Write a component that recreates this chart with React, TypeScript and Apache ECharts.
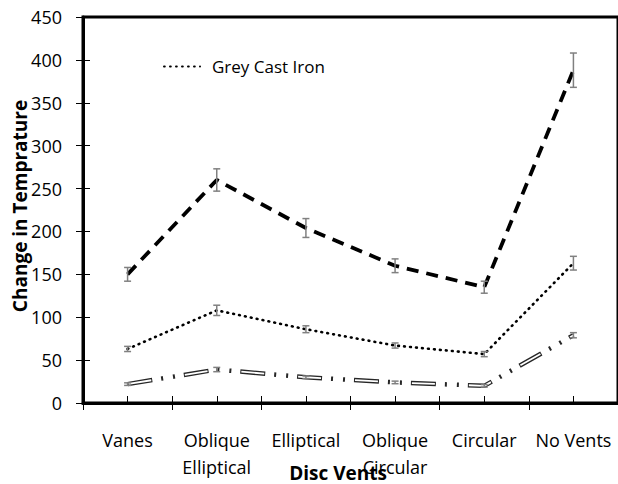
import React, { useEffect, useRef } from 'react';
import * as echarts from 'echarts';

const categories = ['Vanes', 'Oblique\nElliptical', 'Elliptical', 'Oblique\nCircular', 'Circular', 'No Vents'];
const yMin = 0;
const yMax = 450;
const yInterval = 50;
const upperValues = [150, 260, 204, 160, 135, 388];
const upperErrors = [8, 13, 11, 8, 7, 20];
const greyCastIronValues = [63, 108, 86, 67, 57, 163];
const greyCastIronErrors = [3, 6, 4, 3, 3, 8];
const lowerValues = [22, 39, 30, 24, 20, 79];
const lowerErrors = [1.5, 2.5, 1.5, 1.5, 1.5, 3];

const FONT = '"Open Sans", sans-serif';

function errorSeries(name: string, values: number[], errors: number[]) {
  return {
    type: 'custom',
    name,
    xAxisIndex: 0,
    yAxisIndex: 0,
    z: 4,
    data: values.map((v, i) => [i, v - errors[i], v + errors[i]]),
    encode: { x: 0, y: [1, 2] },
    renderItem: (_params: any, api: any) => {
      const lo = api.coord([api.value(0), api.value(1)]);
      const hi = api.coord([api.value(0), api.value(2)]);
      const w = 3.5;
      const style = { stroke: '#808080', lineWidth: 1.5 };
      return {
        type: 'group',
        children: [
          { type: 'line', shape: { x1: lo[0], y1: lo[1], x2: hi[0], y2: hi[1] }, style },
          { type: 'line', shape: { x1: lo[0] - w, y1: lo[1], x2: lo[0] + w, y2: lo[1] }, style },
          { type: 'line', shape: { x1: hi[0] - w, y1: hi[1], x2: hi[0] + w, y2: hi[1] }, style },
        ],
      };
    },
  };
}

export default function App() {
  const ref = useRef<HTMLDivElement>(null);
  useEffect(() => {
    if (!ref.current) return;
    const chart = echarts.init(ref.current, null, { renderer: 'svg' });
    const xBase = {
      type: 'category',
      data: categories,
      position: 'bottom',
      boundaryGap: true,
      gridIndex: 0,
    };
    const yBase = {
      type: 'value',
      min: yMin,
      max: yMax,
      interval: yInterval,
      position: 'left',
      splitLine: { show: false },
    };
    chart.setOption({
      animation: false,
      color: ['#000'],
      textStyle: { fontFamily: FONT },
      grid: {
        left: 83,
        top: 17,
        width: 540,
        height: 386,
        show: true,
        borderColor: '#000',
        borderWidth: 3,
      },
      legend: {
        data: ['Grey Cast Iron'],
        left: 158,
        top: 53,
        itemWidth: 36,
        itemHeight: 14,
        itemStyle: { opacity: 0 },
        textStyle: { fontSize: 17, color: '#000', fontFamily: FONT, padding: [0, 0, 0, 7] },
      },
      xAxis: [
        {
          ...xBase,
          axisLine: { show: true, lineStyle: { color: '#000', width: 3 } },
          axisTick: { show: true, interval: 0, alignWithLabel: false, length: 7, lineStyle: { color: '#000', width: 1 } },
          axisLabel: { interval: 0, fontSize: 18, color: '#000', margin: 23, lineHeight: 27, fontFamily: FONT },
        },
        {
          ...xBase,
          axisLine: { show: false },
          axisTick: { show: true, inside: true, interval: 0, alignWithLabel: false, length: 7, lineStyle: { color: '#000', width: 1 } },
          axisLabel: { show: false },
        },
        {
          ...xBase,
          axisLine: { show: false },
          axisTick: { show: true, inside: true, interval: 0, alignWithLabel: true, length: 7, lineStyle: { color: '#000', width: 1 } },
          axisLabel: { show: false },
        },
      ],
      yAxis: [
        {
          ...yBase,
          axisLine: { show: true, lineStyle: { color: '#000', width: 3 } },
          axisTick: { show: true, length: 7, lineStyle: { color: '#000', width: 1 } },
          axisLabel: { fontSize: 18, color: '#000', margin: 21, fontFamily: FONT },
        },
        {
          ...yBase,
          axisLine: { show: false },
          axisTick: { show: true, inside: true, length: 7, lineStyle: { color: '#000', width: 1 } },
          axisLabel: { show: false },
        },
      ],
      series: [
        {
          type: 'line',
          name: 'Upper',
          data: upperValues,
          symbol: 'none',
          z: 3,
          itemStyle: { color: '#000' },
          lineStyle: { color: '#000', width: 3.8, type: [12, 8], cap: 'butt' },
        },
        {
          type: 'line',
          name: 'Grey Cast Iron',
          data: greyCastIronValues,
          symbol: 'none',
          z: 3,
          itemStyle: { color: '#000' },
          lineStyle: { color: '#000', width: 2.6, type: [0.8, 5.2], cap: 'round' },
        },
        {
          type: 'line',
          name: 'Lower',
          data: lowerValues,
          symbol: 'none',
          z: 3,
          itemStyle: { color: '#262626' },
          lineStyle: { color: '#262626', width: 4.5, type: [25, 9, 2, 10, 2, 9], cap: 'butt' },
        },
        {
          type: 'line',
          name: 'Lower inner',
          data: lowerValues,
          symbol: 'none',
          z: 3,
          itemStyle: { color: '#fff' },
          lineStyle: { color: '#fff', width: 1.8, type: [23, 34], dashOffset: -1, cap: 'butt' },
        },
        errorSeries('Upper error', upperValues, upperErrors),
        errorSeries('Grey Cast Iron error', greyCastIronValues, greyCastIronErrors),
        errorSeries('Lower error', lowerValues, lowerErrors),
      ],
      graphic: [
        {
          type: 'text',
          x: 20,
          y: 206,
          rotation: Math.PI / 2,
          style: {
            text: 'Change in Temprature',
            fontFamily: FONT,
            fontSize: 19,
            fontWeight: 'bold',
            fill: '#000',
            align: 'center',
            verticalAlign: 'middle',
          },
          z: 10,
        },
        {
          type: 'text',
          x: 338,
          y: 473,
          style: {
            text: 'Disc Vents',
            fontFamily: FONT,
            fontSize: 19,
            fontWeight: 'bold',
            fill: '#000',
            align: 'center',
            verticalAlign: 'middle',
          },
          z: 10,
        },
      ],
    });
    return () => chart.dispose();
  }, []);
  return <div ref={ref} style={{ width: 618, height: 484, position: 'absolute', left: 0, top: 0 }} />;
}
